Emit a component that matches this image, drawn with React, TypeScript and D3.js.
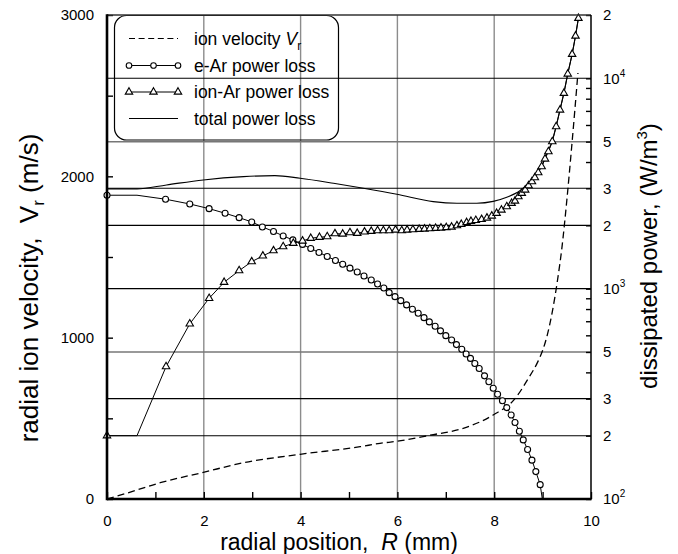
import * as d3 from "d3"
import { useEffect, useRef } from "react"

const W = 678
const H = 554

// radial ion velocity Vr (m/s), left axis
const velR = [0, 0.4, 1.1, 1.99, 2.82, 3.99, 5.23, 5.64, 6.0, 6.67, 7.36, 7.98, 8.43, 8.7, 8.9, 9.0, 9.1, 9.2, 9.3, 9.4, 9.5, 9.6, 9.73]
const velV = [0, 35, 101, 165, 225, 277, 324, 345, 358, 395, 438, 521, 622, 745, 850, 920, 1020, 1160, 1340, 1560, 1850, 2180, 2640]

// e-Ar power loss (W/m^3), markers
const eArR = [0, 1.21, 1.71, 2.11, 2.44, 2.73, 2.99, 3.21, 3.44, 3.64, 3.84, 4.04, 4.21, 4.38, 4.55, 4.72, 4.87, 5.02, 5.17, 5.31, 5.46, 5.59, 5.72,
  5.83, 5.95, 6.07, 6.19, 6.31, 6.43, 6.55, 6.66, 6.78, 6.89, 7.0, 7.12, 7.22, 7.33, 7.42, 7.51, 7.6, 7.69, 7.8, 7.89, 7.98,
  8.07, 8.17, 8.26, 8.35, 8.43, 8.52, 8.6, 8.69, 8.78, 8.86, 8.95]
const eArP = [2781, 2662, 2527, 2401, 2283, 2176, 2076, 1965, 1871, 1781, 1705, 1623, 1553, 1486, 1423, 1362, 1306, 1252, 1201, 1149, 1100, 1053, 1008,
  957, 916, 877, 837, 798, 764, 728, 695, 663, 630, 598, 570, 542, 515, 489, 466, 441, 417, 385, 361, 336,
  315, 293, 272, 251, 231, 210, 191, 172, 153, 135, 117]
// line-only points
const eArLineR = [0.62, 9.0]
const eArLineP = [2781, 98]

// ion-Ar power loss (W/m^3), markers
const ionArR = [0, 1.22, 1.71, 2.11, 2.42, 2.73, 2.99, 3.22, 3.44, 3.64, 3.85, 4.04, 4.21, 4.39, 4.55, 4.71, 4.87, 5.02, 5.17, 5.32, 5.46, 5.59, 5.71,
  5.83, 5.96, 6.09, 6.2, 6.32, 6.45, 6.56, 6.67, 6.79, 6.9, 7.01, 7.12, 7.23, 7.32, 7.43, 7.52, 7.62, 7.74, 7.85, 7.95,
  8.05, 8.15, 8.26, 8.36, 8.43, 8.5, 8.57, 8.64, 8.71, 8.78, 8.84, 8.91, 8.98, 9.05, 9.12, 9.2, 9.28, 9.36, 9.44, 9.52, 9.61, 9.68, 9.74]
const ionArP = [200, 426, 680, 900, 1073, 1218, 1344, 1431, 1516, 1584, 1644, 1686, 1737, 1756, 1768, 1826, 1820, 1847, 1834, 1861, 1875, 1888, 1888,
  1888, 1902, 1888, 1902, 1908, 1916, 1923, 1929, 1937, 1944, 1954, 1965, 1993, 2025, 2064, 2092, 2112, 2134, 2169, 2217,
  2284, 2367, 2455, 2548, 2612, 2739, 2842, 2947, 3089, 3228, 3372, 3562, 3803, 4137, 4483, 5000, 5893, 7075, 8496, 10490, 13020, 15900, 19310]
const ionArLineR = [0.62]
const ionArLineP = [200]

// total power loss (W/m^3)
const totR = [0, 0.62, 1.23, 1.99, 2.82, 3.47, 3.99, 4.68, 5.3, 5.99, 6.74, 7.23, 7.64, 7.98, 8.26, 8.53, 8.74, 8.91, 9.01, 9.05, 9.12, 9.2, 9.28, 9.36, 9.44, 9.52, 9.61, 9.68, 9.74]
const totP = [2980, 2980, 3113, 3288, 3409, 3446, 3349, 3171, 3002, 2811, 2593, 2548, 2548, 2600, 2720, 2920, 3230, 3620, 3960, 4200, 4540, 5050, 5930, 7100, 8520, 10510, 13040, 15920, 19330]

// axes
const xTicks = [0, 1, 2, 3, 4, 5, 6, 7, 8, 9, 10]
const xTickLabels = ["0", "", "2", "", "4", "", "6", "", "8", "", "10"]
const xGrid = [2, 4, 6, 8]
const leftTicks = [0, 500, 1000, 1500, 2000, 2500, 3000]
const leftTickLabels = ["0", "", "1000", "", "2000", "", "3000"]
const rightGrid = [200, 300, 500, 1000, 2000, 3000, 5000, 10000]
const rightLabelVals = [100, 200, 300, 500, 1000, 2000, 3000, 5000, 10000, 20000]
const rightLabelBase = ["10", "2", "3", "5", "10", "2", "3", "5", "10", "2"]
const rightLabelExp = ["2", "", "", "", "3", "", "", "", "4", ""]

const legendNames = ["ion velocity ", "e-Ar power loss", "ion-Ar power loss", "total power loss"]

const FONT = "'Liberation Sans', Arial, Helvetica, sans-serif"

function merge(r: number[], p: number[], r2: number[], p2: number[]) {
  const pts = r.map((d, i) => [d, p[i]]).concat(r2.map((d, i) => [d, p2[i]]))
  return pts.sort((a, b) => a[0] - b[0])
}

export default function App() {
  const ref = useRef<SVGSVGElement>(null)

  useEffect(() => {
    document.body.style.margin = "0"
    const svg = d3.select(ref.current)
    svg.selectAll("*").remove()

    const x = d3.scaleLinear().domain([0, 10]).range([107, 591])
    const yL = d3.scaleLinear().domain([0, 3000]).range([499, 15])
    const yR = d3.scaleLog().domain([100, 20000]).range([499, 15])

    const [x0, x1] = x.range()
    const [yB, yT] = yL.range()

    svg.append("defs").append("clipPath").attr("id", "plot")
      .append("rect").attr("x", x0).attr("y", yT).attr("width", x1 - x0).attr("height", yB - yT)

    // grid
    const grid = svg.append("g")
    grid.selectAll(".vg").data(xGrid).enter().append("line")
      .attr("x1", d => x(d)).attr("x2", d => x(d)).attr("y1", yT).attr("y2", yB)
      .attr("stroke", "#8c8c8c").attr("stroke-width", 1.4)
    grid.selectAll(".hg").data(rightGrid).enter().append("line")
      .attr("x1", x0).attr("x2", x1).attr("y1", d => yR(d)).attr("y2", d => yR(d))
      .attr("stroke", d => (d / Math.pow(10, Math.floor(Math.log10(d))) <= 3 ? "#000" : "#777"))
      .attr("stroke-width", d => (d / Math.pow(10, Math.floor(Math.log10(d))) <= 3 ? 1.1 : 1.5))

    // legend box
    const lg = svg.append("g")
    lg.append("rect").attr("x", 114.5).attr("y", 15.5).attr("width", 224).attr("height", 124.5)
      .attr("rx", 12).attr("fill", "none").attr("stroke", "#000").attr("stroke-width", 1.2)

    const plot = svg.append("g").attr("clip-path", "url(#plot)")

    // ion velocity (dashed)
    const lineL = d3.line<number[]>().x(d => x(d[0])).y(d => yL(d[1])).curve(d3.curveMonotoneX)
    plot.append("path").datum(velR.map((d, i) => [d, velV[i]]))
      .attr("d", lineL).attr("fill", "none").attr("stroke", "#000").attr("stroke-width", 1.3)
      .attr("stroke-dasharray", "7,4")

    const lineR = d3.line<number[]>().x(d => x(d[0])).y(d => yR(d[1]))

    // total
    plot.append("path").datum(totR.map((d, i) => [d, totP[i]]))
      .attr("d", lineR.curve(d3.curveMonotoneX)).attr("fill", "none").attr("stroke", "#000").attr("stroke-width", 1.1)
    lineR.curve(d3.curveLinear)

    // e-Ar
    plot.append("path").datum(merge(eArR, eArP, eArLineR, eArLineP))
      .attr("d", lineR).attr("fill", "none").attr("stroke", "#000").attr("stroke-width", 1)
    // ion-Ar
    plot.append("path").datum(merge(ionArR, ionArP, ionArLineR, ionArLineP))
      .attr("d", lineR).attr("fill", "none").attr("stroke", "#000").attr("stroke-width", 1)

    const tri = d3.symbol().type(d3.symbolTriangle).size(24)

    svg.append("g").selectAll("circle").data(eArR).enter().append("circle")
      .attr("cx", d => x(d)).attr("cy", (d, i) => yR(eArP[i])).attr("r", 3)
      .attr("fill", "#fff").attr("stroke", "#000").attr("stroke-width", 1.1)
    svg.append("g").selectAll("path").data(ionArR).enter().append("path")
      .attr("d", tri).attr("transform", (d, i) => `translate(${x(d)},${yR(ionArP[i])})`)
      .attr("fill", "#fff").attr("stroke", "#000").attr("stroke-width", 1.1)

    // legend entries
    const rowY = [44.5, 71.5, 98, 124.5]
    const sx0 = 129, sx1 = 178
    lg.append("line").attr("x1", sx0).attr("x2", sx1).attr("y1", rowY[0] - 6).attr("y2", rowY[0] - 6)
      .attr("stroke", "#000").attr("stroke-width", 1.2).attr("stroke-dasharray", "6,3.6")
    for (const r of [1, 2, 3]) {
      lg.append("line").attr("x1", sx0).attr("x2", sx1).attr("y1", rowY[r] - 6).attr("y2", rowY[r] - 6)
        .attr("stroke", "#000").attr("stroke-width", 1)
    }
    const mx = [sx0, (sx0 + sx1) / 2, sx1]
    lg.selectAll(".lc").data(mx).enter().append("circle")
      .attr("cx", d => d).attr("cy", rowY[1] - 6).attr("r", 2.8)
      .attr("fill", "#fff").attr("stroke", "#000").attr("stroke-width", 1.1)
    lg.selectAll(".lt").data(mx).enter().append("path")
      .attr("d", tri).attr("transform", d => `translate(${d},${rowY[2] - 6})`)
      .attr("fill", "#fff").attr("stroke", "#000").attr("stroke-width", 1.1)
    legendNames.forEach((name, i) => {
      const t = lg.append("text").attr("x", 194).attr("y", rowY[i])
        .attr("font-family", FONT).attr("font-size", 17.5).attr("fill", "#000").style("white-space", "pre").text(name)
      if (i === 0) {
        t.append("tspan").attr("font-style", "italic").text("V")
        t.append("tspan").attr("font-size", 12).attr("dy", 5).text("r")
      }
    })

    // axes ticks
    const axL = d3.axisLeft(yL).tickValues(leftTicks).tickSizeInner(-6).tickSizeOuter(0).tickPadding(13)
      .tickFormat((d, i) => leftTickLabels[i])
    const gL = svg.append("g").attr("transform", `translate(${x0},0)`).call(axL)
    const axB = d3.axisBottom(x).tickValues(xTicks).tickSizeInner(-7).tickSizeOuter(0).tickPadding(16)
      .tickFormat((d, i) => xTickLabels[i])
    const gB = svg.append("g").attr("transform", `translate(0,${yB})`).call(axB)
    const rTicks: number[] = []
    for (const dec of [100, 1000, 10000]) {
      for (let m = 1; m <= 9; m++) if (dec * m <= 20000) rTicks.push(dec * m)
    }
    const axR = d3.axisRight(yR).tickValues(rTicks).tickSizeInner(-5).tickSizeOuter(0).tickFormat(() => "")
    const gR = svg.append("g").attr("transform", `translate(${x1},0)`).call(axR)
    for (const g of [gL, gB, gR]) {
      g.select(".domain").remove()
      g.selectAll(".tick line").attr("stroke", "#000").attr("stroke-width", 1.4)
      g.selectAll("text").attr("font-family", FONT).attr("font-size", 15).attr("fill", "#000")
    }

    // frame
    svg.append("line").attr("x1", x0).attr("x2", x1).attr("y1", yT).attr("y2", yT).attr("stroke", "#333").attr("stroke-width", 1.4)
    svg.append("line").attr("x1", x1).attr("x2", x1).attr("y1", yT).attr("y2", yB).attr("stroke", "#000").attr("stroke-width", 1.5)
    svg.append("line").attr("x1", x0).attr("x2", x0).attr("y1", yT - 0.7).attr("y2", yB + 1.2).attr("stroke", "#000").attr("stroke-width", 2.6)
    svg.append("line").attr("x1", x0).attr("x2", x1 + 0.7).attr("y1", yB).attr("y2", yB).attr("stroke", "#000").attr("stroke-width", 2.6)

    // right labels
    rightLabelVals.forEach((v, i) => {
      const t = svg.append("text").attr("x", x1 + 12).attr("y", yR(v)).attr("dy", "0.36em")
        .attr("font-family", FONT).attr("font-size", 15).text(rightLabelBase[i])
      if (rightLabelExp[i]) t.append("tspan").attr("font-size", 10).attr("dy", -7).text(rightLabelExp[i])
    })

    // axis titles
    const tb = svg.append("text").attr("x", 339).attr("y", 550).attr("text-anchor", "middle")
      .attr("font-family", FONT).attr("font-size", 23).style("white-space", "pre").text("radial position,  ")
    tb.append("tspan").attr("font-style", "italic").text("R")
    tb.append("tspan").text(" (mm)")

    const tl = svg.append("text").attr("transform", "translate(38,288) rotate(-90)").attr("text-anchor", "middle")
      .attr("font-family", FONT).attr("font-size", 26).style("white-space", "pre").text("radial ion velocity,  ")
    tl.append("tspan").text("V")
    tl.append("tspan").attr("font-size", 17).attr("dy", 6).text("r")
    tl.append("tspan").attr("dy", -6).text(" (m/s)")

    const tr = svg.append("text").attr("transform", "translate(657,256) rotate(-90)").attr("text-anchor", "middle")
      .attr("font-family", FONT).attr("font-size", 24).style("white-space", "pre").text("dissipated power, (W/m")
    tr.append("tspan").attr("font-size", 15).attr("dy", -10).text("3")
    tr.append("tspan").attr("dy", 10).text(")")
  }, [])

  return <svg ref={ref} width={W} height={H} style={{ display: "block", background: "#fff" }} />
}
